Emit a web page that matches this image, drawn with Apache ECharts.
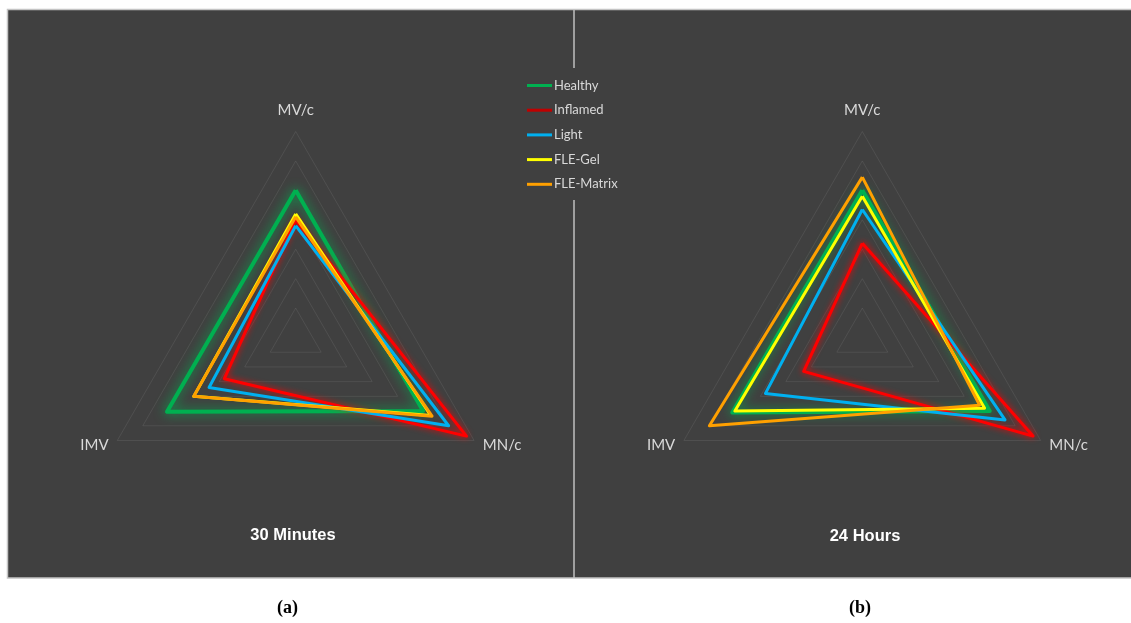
<!DOCTYPE html>
<html>
<head>
<meta charset="utf-8">
<script src="https://cdn.jsdelivr.net/npm/echarts@6/dist/echarts.min.js"></script>
<style>
html,body{margin:0;padding:0;background:#fff;}
#chart{width:1131px;height:623px;}
</style>
</head>
<body>
<div id="chart"></div>
<script>
// ---- data ----
const categories = ['MV/c', 'IMV', 'MN/c'];
const seriesNames = ['Healthy', 'Inflamed', 'Light', 'FLE-Gel', 'FLE-Matrix'];
const axisMax = 7;
// 30 minutes (panel a)
const healthy30 = [5.0, 5.05, 5.0];
const inflamed30 = [4.0, 2.8, 6.7];
const light30 = [3.8, 3.4, 6.0];
const gel30 = [4.2, 4.0, 5.3];
const matrix30 = [4.1, 4.0, 5.35];
// 24 hours (panel b)
const healthy24 = [5.0, 5.1, 5.0];
const inflamed24 = [3.2, 2.3, 6.7];
const light24 = [4.35, 3.8, 5.6];
const gel24 = [4.8, 5.0, 4.8];
const matrix24 = [5.45, 6.0, 4.6];
const panelTitles = ['30 Minutes', '24 Hours'];
const captions = ['(a)', '(b)'];

// ---- styles ----
const colors = {
  'Healthy': '#00b050',
  'Inflamed': '#ff0000',
  'Light': '#00b0f0',
  'FLE-Gel': '#ffff00',
  'FLE-Matrix': '#ffa000'
};
const legendColors = {
  'Healthy': '#00b050',
  'Inflamed': '#c00000',
  'Light': '#00b0f0',
  'FLE-Gel': '#ffff00',
  'FLE-Matrix': '#ffa000'
};
const glow = { 'Healthy': 12, 'Inflamed': 6 };
const widths = { 'Healthy': 4 };

function makeItems(arrs) {
  return seriesNames.map((n, i) => ({
    name: n,
    value: arrs[i],
    symbol: 'none',
    itemStyle: { color: colors[n] },
    lineStyle: {
      color: colors[n],
      width: widths[n] || 3,
      shadowBlur: glow[n] || 0,
      shadowColor: glow[n] ? colors[n] : 'transparent'
    },
    areaStyle: { opacity: 0 }
  }));
}

const indicator = categories.map(c => ({ name: c, max: axisMax, min: 0 }));
function radarCfg(cx) {
  return {
    center: [cx, 337.5],
    radius: 206,
    startAngle: 90,
    shape: 'polygon',
    splitNumber: 7,
    indicator: indicator,
    axisName: {
      color: '#d9d9d9',
      fontFamily: 'Lato',
      fontSize: 15,
      padding: [0, 0, 4, 0]
    },
    nameGap: 10,
    axisLine: { show: false },
    axisTick: { show: false },
    axisLabel: { show: false },
    splitLine: { lineStyle: { color: 'rgba(255,255,255,0.08)', width: 1 } },
    splitArea: { show: false }
  };
}

const chart = echarts.init(document.getElementById('chart'));
chart.setOption({
  backgroundColor: '#ffffff',
  animation: false,
  graphic: [
    { type: 'rect', z: -10, shape: { x: 7.5, y: 9.5, width: 1130, height: 568.5 },
      style: { fill: '#404040', stroke: '#c4c4c4', lineWidth: 1.5 } },
    { type: 'line', z: -5, shape: { x1: 574, y1: 10, x2: 574, y2: 68 }, style: { stroke: '#bfbfbf', lineWidth: 1.5 } },
    { type: 'line', z: -5, shape: { x1: 574, y1: 200, x2: 574, y2: 578 }, style: { stroke: '#bfbfbf', lineWidth: 1.5 } },
    { type: 'text', left: 288 - 11, top: 599, style: { text: captions[0], font: 'bold 18px "Liberation Serif"', fill: '#000' } },
    { type: 'text', left: 860 - 11, top: 599, style: { text: captions[1], font: 'bold 18px "Liberation Serif"', fill: '#000' } }
  ],
  title: [
    { text: panelTitles[0], left: 288, top: 522, textAlign: 'center',
      textStyle: { color: '#ffffff', fontSize: 16.5, fontWeight: 'bold', fontFamily: 'Liberation Sans' } },
    { text: panelTitles[1], left: 860, top: 523, textAlign: 'center',
      textStyle: { color: '#ffffff', fontSize: 16.5, fontWeight: 'bold', fontFamily: 'Liberation Sans' } }
  ],
  legend: {
    orient: 'vertical',
    left: 527,
    top: 79,
    padding: 0,
    itemWidth: 25,
    itemHeight: 3,
    itemGap: 11.7,
    icon: 'rect',
    selectedMode: false,
    textStyle: { color: '#d9d9d9', fontSize: 13, fontFamily: 'Lato', padding: [0, 0, 0, -3] },
    data: seriesNames.map(n => ({ name: n, itemStyle: { color: legendColors[n] } }))
  },
  radar: [radarCfg(295.7), radarCfg(862.3)],
  series: [
    { type: 'radar', radarIndex: 0, data: makeItems([healthy30, inflamed30, light30, gel30, matrix30]) },
    { type: 'radar', radarIndex: 1, data: makeItems([healthy24, inflamed24, light24, gel24, matrix24]) }
  ]
});
</script>
</body>
</html>
